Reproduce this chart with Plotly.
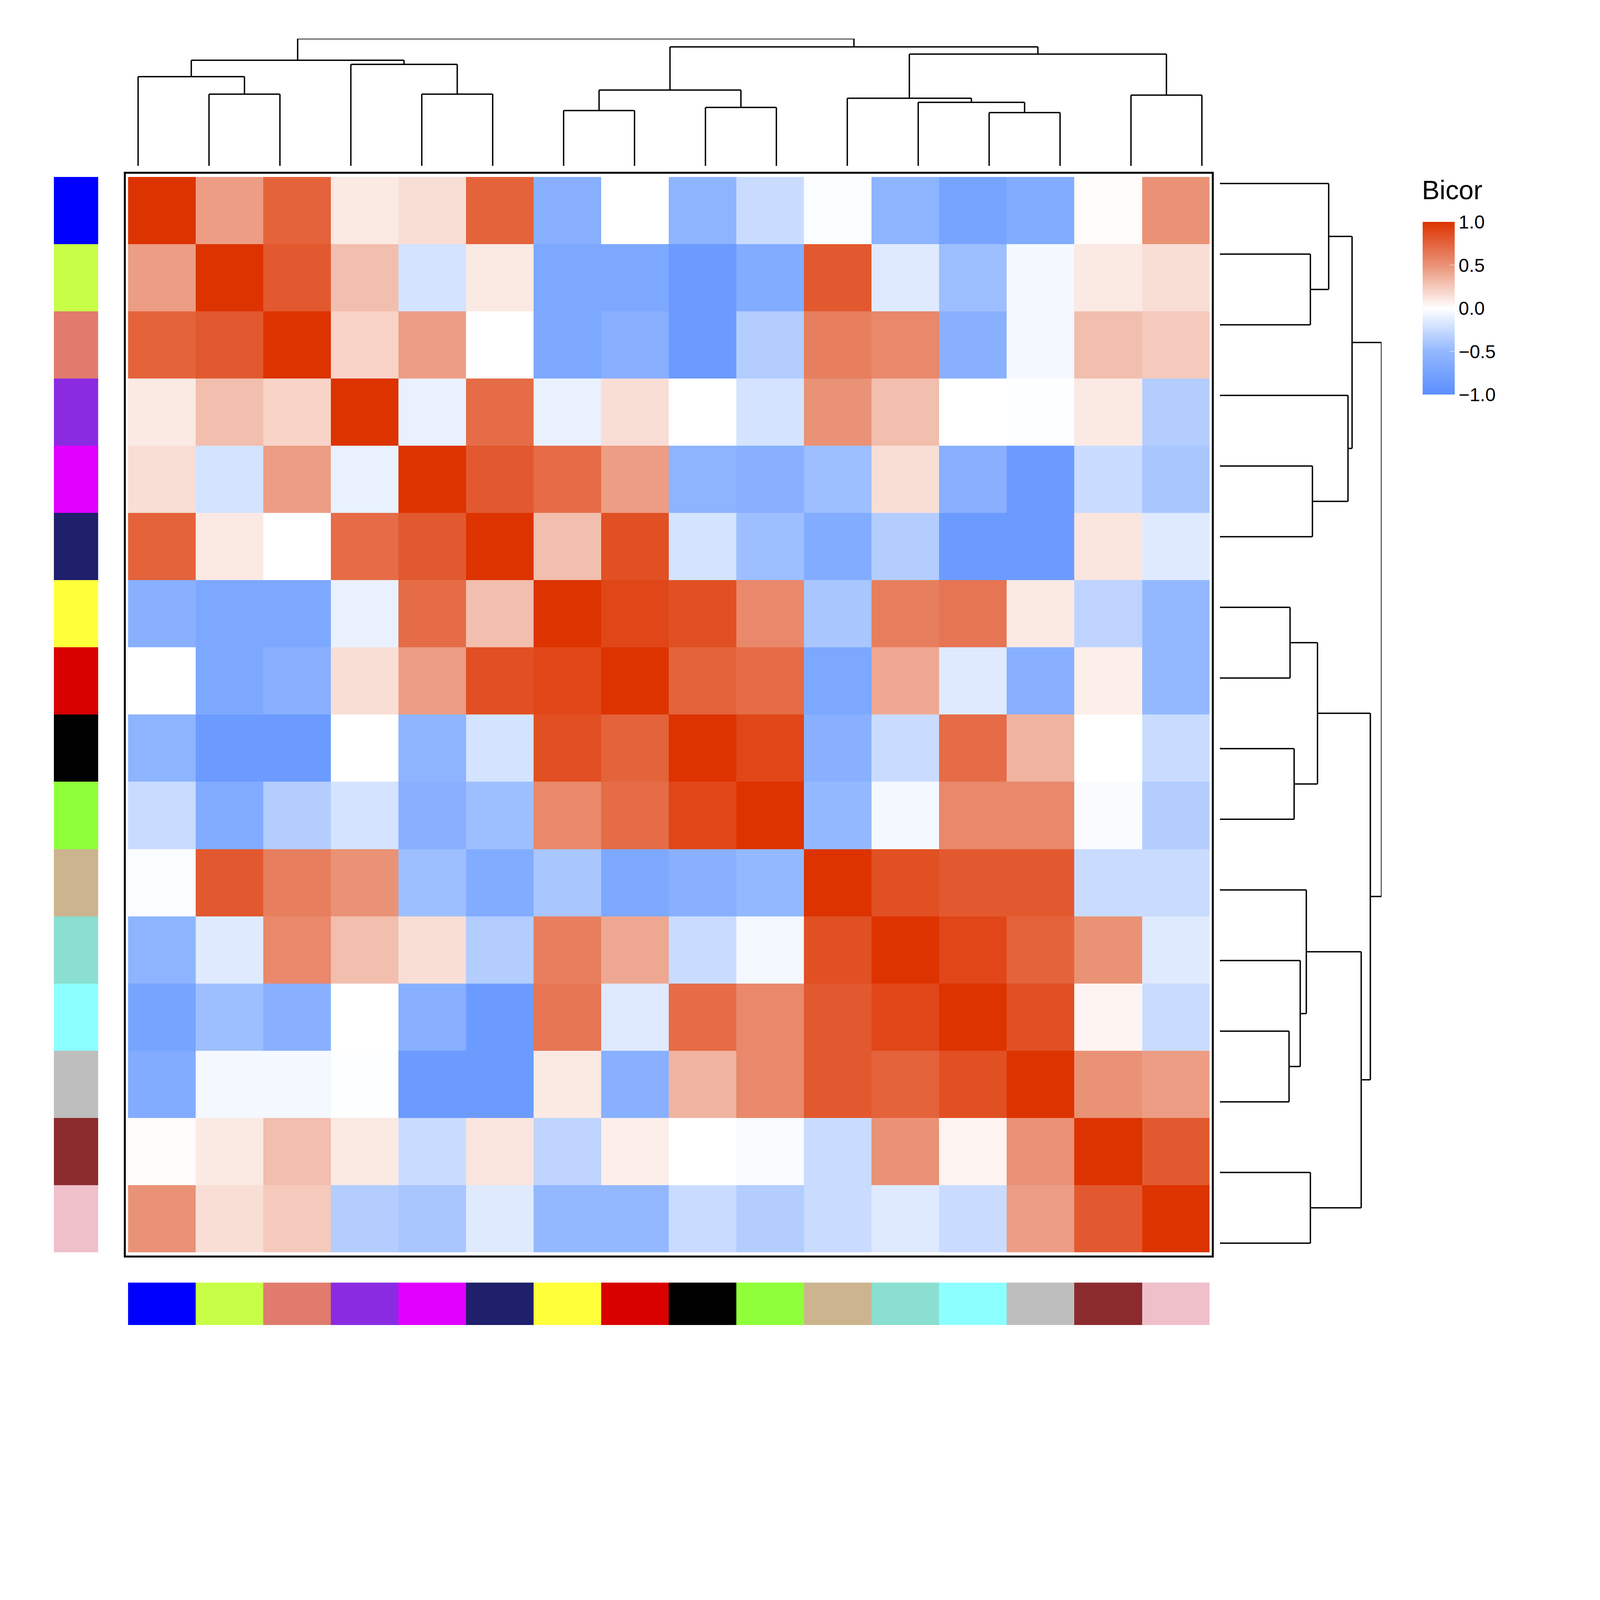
import plotly.graph_objects as go

module_colors = ["#0000FF", "#C8FF46", "#E07B6E", "#8A2BE2", "#E000FF", "#1F1F6B", "#FFFF3A", "#D90000",
                 "#000000", "#8FFF3A", "#CBB48E", "#8ADFD0", "#8CFFFF", "#BEBEBE", "#8B2B2E", "#EFBFCA"]
modules = ["blue", "greenyellow", "salmon", "purple", "magenta", "midnightblue", "yellow", "red",
           "black", "green", "tan", "turquoise", "lightcyan", "grey60", "darkred", "pink"]

bicor = [
    [1, .45, .75, .1, .15, .75, -.6, 0, -.55, -.25, -.02, -.55, -.75, -.65, .02, .5],
    [.45, 1, .8, .3, -.2, .1, -.7, -.7, -.85, -.65, .8, -.15, -.45, -.05, .1, .15],
    [.75, .8, 1, .2, .45, 0, -.7, -.6, -.85, -.35, .6, .55, -.6, -.05, .3, .25],
    [.1, .3, .2, 1, -.1, .7, -.1, .15, 0, -.2, .5, .3, 0, -.01, .1, -.35],
    [.15, -.2, .45, -.1, 1, .8, .7, .45, -.55, -.6, -.45, .15, -.6, -.85, -.25, -.4],
    [.75, .1, 0, .7, .8, 1, .3, .85, -.2, -.45, -.65, -.35, -.85, -.85, .12, -.15],
    [-.6, -.7, -.7, -.1, .7, .3, 1, .9, .85, .55, -.4, .6, .65, .1, -.3, -.5],
    [0, -.7, -.6, .15, .45, .85, .9, 1, .75, .7, -.7, .4, -.15, -.6, .08, -.5],
    [-.55, -.85, -.85, 0, -.55, -.2, .85, .75, 1, .9, -.6, -.25, .7, .35, 0, -.25],
    [-.25, -.65, -.35, -.2, -.6, -.45, .55, .7, .9, 1, -.5, -.05, .55, .55, -.03, -.35],
    [-.02, .8, .6, .5, -.45, -.65, -.4, -.7, -.6, -.5, 1, .85, .8, .8, -.25, -.25],
    [-.55, -.15, .55, .3, .15, -.35, .6, .4, -.25, -.05, .85, 1, .9, .75, .5, -.15],
    [-.75, -.45, -.6, 0, -.6, -.85, .65, -.15, .7, .55, .8, .9, 1, .85, .05, -.25],
    [-.65, -.05, -.05, -.01, -.85, -.85, .1, -.6, .35, .55, .8, .75, .85, 1, .5, .45],
    [.02, .1, .3, .1, -.25, .12, -.3, .08, 0, -.03, -.25, .5, .05, .5, 1, .8],
    [.5, .15, .25, -.35, -.4, -.15, -.5, -.5, -.25, -.35, -.25, -.15, -.25, .45, .8, 1],
]

col_merges = [(1, 2, 70), (0, 16, 87), (4, 5, 70), (3, 18, 99), (17, 19, 103), (6, 7, 54), (8, 9, 57),
              (21, 22, 74), (12, 13, 52), (11, 24, 62), (10, 25, 66), (14, 15, 69), (26, 27, 109),
              (23, 28, 116), (20, 29, 124)]
row_merges = [(1, 2, 89), (0, 16, 107), (4, 5, 91), (3, 18, 126), (17, 19, 130), (6, 7, 69), (8, 9, 73),
              (21, 22, 96), (12, 13, 68), (11, 24, 79), (10, 25, 85), (14, 15, 89), (26, 27, 139),
              (23, 28, 148), (20, 29, 159)]

n = len(modules)
idx = list(range(n))


def dendro_segments(merges):
    pos = {i: i for i in range(n)}
    hgt = {i: 0 for i in range(n)}
    P, H = [], []
    for k, (a, b, h) in enumerate(merges):
        nid = n + k
        for p, q in [((pos[a], hgt[a]), (pos[a], h)), ((pos[a], h), (pos[b], h)), ((pos[b], h), (pos[b], hgt[b]))]:
            P += [p[0], q[0], None]
            H += [p[1], q[1], None]
        pos[nid] = (pos[a] + pos[b]) / 2
        hgt[nid] = h
    return P, H


fig = go.Figure()
LW = 3.5
scale = [[0, "#5B8FFF"], [0.25, "#93B8FF"], [0.5, "#FFFFFF"], [0.75, "#EA9276"], [1, "#DD3300"]]
fig.add_trace(go.Heatmap(z=bicor, x=idx, y=idx, zmin=-1, zmax=1, colorscale=scale,
                         colorbar=dict(x=0.896, xanchor="left", y=0.84, yanchor="top",
                                       len=442, lenmode="pixels", thickness=82, ypad=0, xpad=0,
                                       outlinewidth=0, tickvals=[-1, -0.5, 0, 0.5, 1],
                                       ticktext=["\u22121.0", "\u22120.5", "0.0", "0.5", "1.0"],
                                       tickfont=dict(size=48), ticks="inside", ticklen=12, tickcolor="white")))
P, H = dendro_segments(col_merges)
fig.add_trace(go.Scatter(x=P, y=H, mode="lines", line=dict(color="black", width=LW), xaxis="x2", yaxis="y2",
                         showlegend=False, hoverinfo="skip"))
P, H = dendro_segments(row_merges)
fig.add_trace(go.Scatter(x=H, y=P, mode="lines", line=dict(color="black", width=LW), xaxis="x3", yaxis="y3",
                         showlegend=False, hoverinfo="skip"))
dscale = []
for i, c in enumerate(module_colors):
    dscale += [[i / n, c], [(i + 1) / n, c]]
fig.add_trace(go.Heatmap(z=[[i] for i in idx], x=[0], y=idx, zmin=-0.5, zmax=n - 0.5, colorscale=dscale,
                         showscale=False, xaxis="x4", yaxis="y4"))
fig.add_trace(go.Heatmap(z=[idx], x=idx, y=[0], zmin=-0.5, zmax=n - 0.5, colorscale=dscale,
                         showscale=False, xaxis="x5", yaxis="y5"))

HX = [0.0788, 0.7615]
HY = [0.087, 0.873]
off = dict(visible=False, showgrid=False, zeroline=False)
R = [-0.5, n - 0.5]
fig.update_layout(
    width=4056, height=3503, margin=dict(l=0, r=0, t=0, b=0), paper_bgcolor="white", plot_bgcolor="white",
    font=dict(family="Liberation Sans, Arial", color="black"),
    xaxis=dict(domain=HX, range=R, **off), yaxis=dict(domain=HY, range=R[::-1], **off),
    xaxis2=dict(domain=[0.0628, 0.779], range=R, anchor="y2", **off),
    yaxis2=dict(domain=[0.881, 0.974], range=[0, 124], anchor="x2", **off),
    xaxis3=dict(domain=[0.768, 0.870], range=[0, 159], anchor="y3", **off),
    yaxis3=dict(domain=[0.068, 0.894], range=R[::-1], anchor="x3", **off),
    xaxis4=dict(domain=[0.032, 0.060], range=[-0.5, 0.5], anchor="y4", **off),
    yaxis4=dict(domain=HY, range=R[::-1], anchor="x4", **off),
    xaxis5=dict(domain=HX, range=R, anchor="y5", **off),
    yaxis5=dict(domain=[0.034, 0.065], range=[-0.5, 0.5], anchor="x5", **off),
    shapes=[dict(type="rect", xref="paper", yref="paper", x0=HX[0] - 0.002, x1=HX[1] + 0.002,
                 y0=HY[0] - 0.003, y1=HY[1] + 0.003, line=dict(color="black", width=5))],
    annotations=[dict(text="Bicor", xref="paper", yref="paper", x=0.895, y=0.852, xanchor="left",
                      yanchor="bottom", showarrow=False, font=dict(size=68))],
)
fig.write_html("out.html")
